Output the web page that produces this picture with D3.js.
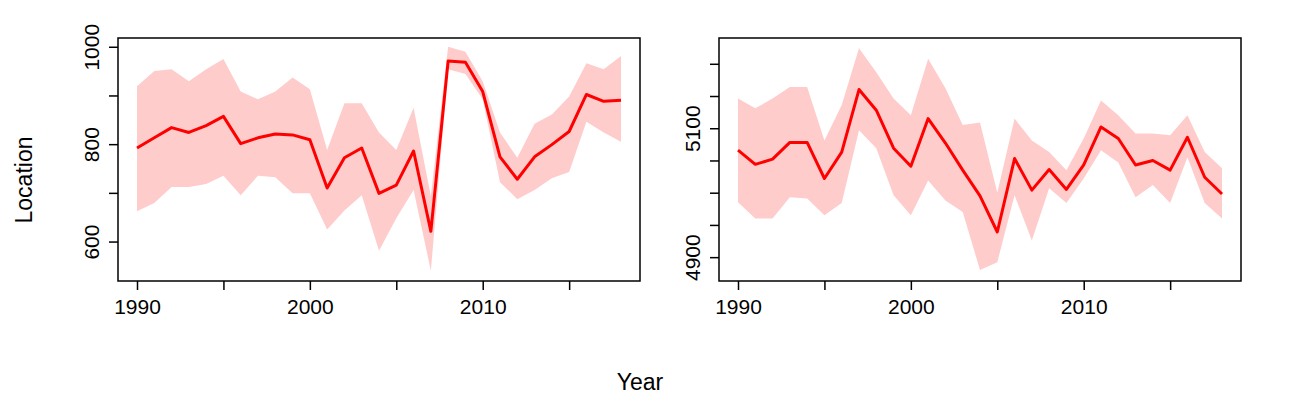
<!DOCTYPE html>
<html><head><meta charset="utf-8">
<script src="https://cdn.jsdelivr.net/npm/d3@7"></script>
<style>body{margin:0;background:#fff} text{font-family:"Liberation Sans",Arial,sans-serif}</style>
</head><body>
<svg width="1300" height="400"></svg>
<script>
var years = d3.range(1990, 2019);

var leftMid = [792,813,834,824,838,857,801,813,821,819,809,710,772,792,699,716,786,621,971,968,908,774,728,774,799,826,902,888,890];
var leftUp = [919,950,954,929,954,975,908,892,908,937,913,788,884,884,824,788,875,693,1000,990,929,824,772,842,861,898,966,954,981];
var leftLo = [662,679,712,712,718,735,695,735,732,699,699,625,664,695,581,648,706,540,954,944,892,722,687,706,730,743,846,824,805];

var rightMid = [5066,5044,5052,5078,5078,5022,5063,5160,5128,5069,5041,5115,5077,5035,4995,4939,5053,5004,5036,5005,5043,5102,5084,5043,5050,5035,5086,5024,4998];
var rightUp = [5146,5131,5146,5164,5164,5081,5136,5224,5187,5146,5120,5208,5162,5105,5109,5000,5115,5081,5063,5035,5084,5143,5120,5092,5092,5089,5120,5063,5038];
var rightLo = [4985,4960,4960,4993,4991,4965,4984,5097,5069,4996,4965,5019,4988,4970,4880,4892,4996,4926,5007,4984,5022,5066,5047,4993,5012,4984,5055,4984,4960];

var xTicks = [1990,1995,2000,2005,2010,2015];
var xLabels = [1990,2000,2010];

var svg = d3.select("svg");

function panel(left, mid, up, lo, yDomain, yTicks, yLabels) {
    var top = 38, bottom = 281, w = 522;
    var x = d3.scaleLinear().domain([1990, 2018]).range([left + 19, left + w - 19]);
    var y = d3.scaleLinear().domain(yDomain).range([bottom, top]);
    var g = svg.append("g");

    var d = years.map(function (yr, i) { return { yr: yr, m: mid[i], u: up[i], l: lo[i] }; });

    g.append("path")
        .datum(d)
        .attr("fill", "#ffcccc")
        .attr("d", d3.area().x(function (d) { return x(d.yr); }).y0(function (d) { return y(d.l); }).y1(function (d) { return y(d.u); }));

    g.append("path")
        .datum(d)
        .attr("fill", "none")
        .attr("stroke", "#ff0000")
        .attr("stroke-width", 3)
        .attr("stroke-linejoin", "round")
        .attr("d", d3.line().x(function (d) { return x(d.yr); }).y(function (d) { return y(d.m); }));

    g.append("rect")
        .attr("x", left).attr("y", top).attr("width", w).attr("height", bottom - top)
        .attr("fill", "none").attr("stroke", "#000").attr("stroke-width", 1.5);

    var xa = g.append("g")
        .attr("transform", "translate(0," + bottom + ")")
        .call(d3.axisBottom(x).tickValues(xTicks).tickSize(9).tickFormat(function (t) { return xLabels.indexOf(t) >= 0 ? t : ""; }));
    xa.select(".domain").remove();
    xa.selectAll("line").attr("stroke-width", 1.5);
    xa.selectAll("text").style("font-size", "21px").attr("y", 14).attr("dy", "0.9em").attr("fill", "#000");

    var ya = g.append("g")
        .attr("transform", "translate(" + left + ",0)")
        .call(d3.axisLeft(y).tickValues(yTicks).tickSize(9).tickFormat(function (t) { return yLabels.indexOf(t) >= 0 ? t : ""; }));
    ya.select(".domain").remove();
    ya.selectAll("line").attr("stroke-width", 1.5);
    ya.selectAll("text")
        .style("font-size", "21px").attr("fill", "#000")
        .attr("text-anchor", "middle")
        .attr("transform", "translate(-26,0) rotate(-90)")
        .attr("x", 0).attr("y", 0).attr("dy", "0.35em");
}

panel(118, leftMid, leftUp, leftLo, [519, 1018], [600,700,800,900,1000], [600,800,1000]);
panel(719, rightMid, rightUp, rightLo, [4863, 5240], [4900,4950,5000,5050,5100,5150,5200], [4900,5100]);

svg.append("text").attr("x", 640).attr("y", 390).attr("text-anchor", "middle").style("font-size", "23px").text("Year");
svg.append("text").attr("transform", "translate(32,180) rotate(-90)").attr("text-anchor", "middle").style("font-size", "23px").text("Location");
</script>
</body></html>
